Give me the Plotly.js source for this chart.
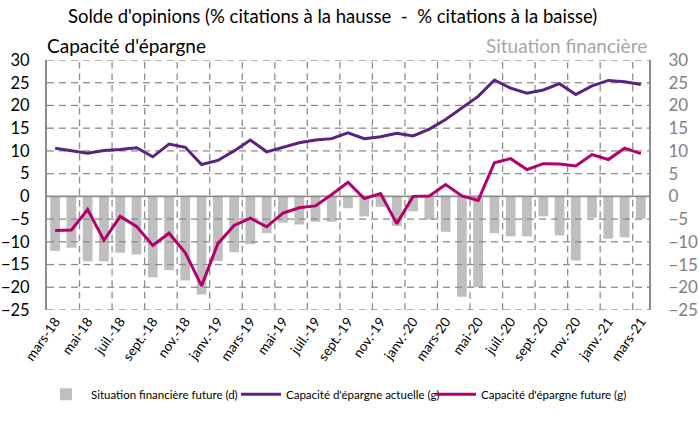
<!DOCTYPE html>
<html>
<head>
<meta charset="utf-8">
<script src="https://cdn.plot.ly/plotly-3.0.1.min.js"></script>
<style>html,body{margin:0;padding:0;background:#fff;}#chart{width:699px;height:421px;}</style>
</head>
<body>
<div id="chart"></div>
<script>
const months = ["mars-18","avr.-18","mai-18","juin-18","juil.-18","août-18","sept.-18","oct.-18","nov.-18","déc.-18",
"janv.-19","févr.-19","mars-19","avr.-19","mai-19","juin-19","juil.-19","août-19","sept.-19","oct.-19","nov.-19","déc.-19",
"janv.-20","févr.-20","mars-20","avr.-20","mai-20","juin-20","juil.-20","août-20","sept.-20","oct.-20","nov.-20","déc.-20",
"janv.-21","févr.-21","mars-21"];

const situationFuture = [-12.0,-11.3,-14.3,-14.3,-12.4,-12.8,-17.8,-16.2,-18.5,-21.6,
-14.2,-12.3,-10.5,-8.1,-5.8,-6.2,-5.6,-5.6,-2.6,-4.4,-2.3,-6.5,
-3.3,-5.1,-7.8,-22.1,-20.0,-8.1,-8.8,-8.8,-4.4,-8.6,-14.1,-4.7,
-9.3,-9.0,-4.9];

const epargneActuelle = [10.6,10.1,9.5,10.1,10.3,10.7,8.7,11.5,10.8,7.0,
7.9,10.0,12.4,9.8,10.8,11.8,12.4,12.7,14.0,12.7,13.1,13.9,
13.3,14.8,16.9,19.4,22.0,25.6,23.8,22.7,23.4,24.8,22.4,24.3,
25.5,25.2,24.6];

const epargneFuture = [-7.5,-7.4,-2.9,-9.7,-4.4,-6.6,-10.8,-8.1,-12.4,-19.7,
-10.4,-6.4,-4.8,-6.7,-3.7,-2.5,-2.1,0.4,3.1,-0.5,0.6,-6.0,
0.0,0.1,2.6,0.1,-0.9,7.4,8.3,5.9,7.2,7.1,6.7,9.2,
8.1,10.6,9.4];

const yTicks = [30,25,20,15,10,5,0,-5,-10,-15,-20,-25];

const idx = months.map((m,i)=>i);
const labelIdx = idx.filter(i => i % 2 === 0);
const labelText = labelIdx.map(i => months[i]);
const gridIdx = idx.filter(i => i % 2 === 0 && i > 0).map(i => i - 0.5);
const xRange = [-0.5, months.length - 0.5];
const yRange = [-25, 30];

const FONT = "Lato, 'Liberation Sans', sans-serif";
const GRID = "#8c8c8c";

// dashed grid lines built from the tick arrays (dash ≈ 7px, gap ≈ 5px)
const PX_X = 602 / (xRange[1] - xRange[0]);
const PX_Y = 261 / (yRange[1] - yRange[0]);
function dashes(a, b, on, off) {
  const out = [];
  for (let s = a; s < b; s += on + off) { out.push(s, Math.min(s + on, b), null); }
  return out;
}
const hx = [], hy = [];
yTicks.filter(v => v !== 0).forEach(v => {
  const seg = dashes(xRange[0], xRange[1], 7 / PX_X, 5 / PX_X);
  seg.forEach(p => { hx.push(p); hy.push(p === null ? null : v); });
});
const vx = [], vy = [];
gridIdx.forEach(v => {
  const seg = dashes(yRange[0], yRange[1], 7 / PX_Y, 5 / PX_Y);
  seg.forEach(p => { vy.push(p); vx.push(p === null ? null : v); });
});

const traces = [
  {type:"scatter", mode:"lines", x:hx, y:hy, line:{color:GRID, width:1.3}, showlegend:false, hoverinfo:"skip", xaxis:"x", yaxis:"y"},
  {type:"scatter", mode:"lines", x:vx, y:vy, line:{color:GRID, width:1.3}, showlegend:false, hoverinfo:"skip", xaxis:"x", yaxis:"y"},
  {type:"scatter", mode:"lines", x:xRange, y:[0,0], line:{color:GRID, width:1.6}, showlegend:false, hoverinfo:"skip", xaxis:"x", yaxis:"y"},
  {type:"bar", x:idx, y:situationFuture, name:"Situation financière future (d)",
   marker:{color:"#BFBFBF"}, width:0.6, xaxis:"x", yaxis:"y"},
  {type:"scatter", mode:"lines", x:idx, y:epargneActuelle, name:"Capacité d'épargne actuelle (g)",
   line:{color:"#5B2381", width:3}, xaxis:"x", yaxis:"y2"},
  {type:"scatter", mode:"lines", x:idx, y:epargneFuture, name:"Capacité d'épargne future (g)",
   line:{color:"#B3006B", width:3}, xaxis:"x", yaxis:"y2"}
];

const layout = {
  width:699, height:421,
  margin:{l:47, r:50, t:60, b:100},
  paper_bgcolor:"#ffffff", plot_bgcolor:"#ffffff",
  font:{family:FONT, color:"#000"},
  showlegend:true,
  bargap:0.4,
  title:{text:"Solde d'opinions (% citations à la hausse  -  % citations à la baisse)",
         font:{family:FONT, size:18.5, color:"#000"},
         xref:"container", x:68/699, xanchor:"left", yref:"container", y:1-17/421, yanchor:"middle"},
  xaxis:{range:xRange, tickmode:"array", tickvals:labelIdx, ticktext:labelText,
         tickangle:-55, tickfont:{size:13.5, color:"#000"}, showgrid:false, zeroline:false,
         showline:false, ticks:""},
  yaxis:{range:yRange, side:"right", tickmode:"array", tickvals:yTicks,
         tickfont:{size:17, color:"#7F7F7F"}, showgrid:false, zeroline:false,
         showline:true, linecolor:"#8c8c8c", linewidth:2, ticks:"", ticklabelstandoff:14},
  yaxis2:{range:yRange, side:"left", overlaying:"y", anchor:"x", tickmode:"array", tickvals:yTicks,
         tickfont:{size:16.5, color:"#000"}, showgrid:false, zeroline:false,
         showline:true, linecolor:"#8c8c8c", linewidth:2, ticks:"", ticklabelstandoff:12},
  legend:{orientation:"h", x:-0.01, xanchor:"left", y:-0.337, yanchor:"middle",
          font:{size:11.5, color:"#000"}, entrywidth:140, entrywidthmode:"pixels", itemwidth:40,
          bgcolor:"rgba(0,0,0,0)"},
  annotations:[
    {text:"Capacité d'épargne", xref:"paper", yref:"paper", x:-0.003, xanchor:"left", y:(321-45)/261, yanchor:"middle",
     showarrow:false, font:{family:FONT, size:19, color:"#000"}},
    {text:"Situation financière", xref:"paper", yref:"paper", x:1, xanchor:"right", y:(321-45)/261, yanchor:"middle",
     showarrow:false, font:{family:FONT, size:19, color:"#A6A6A6"}}
  ]
};

Plotly.newPlot("chart", traces, layout, {displayModeBar:false, staticPlot:true});
</script>
</body>
</html>
